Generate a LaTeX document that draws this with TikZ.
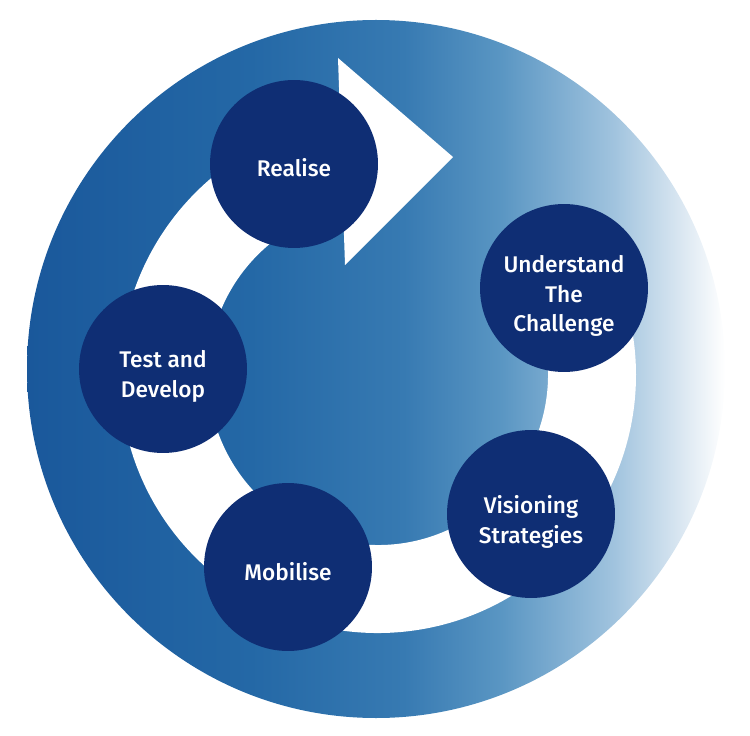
\documentclass[tikz,border=0pt]{standalone}
\usepackage{fontspec}
\setmainfont{Fira Sans}[UprightFont=* Medium]
\usepackage{tikz}
\usetikzlibrary{calc}

\definecolor{navy}{RGB}{15,46,116}
\definecolor{ringA}{RGB}{26,88,155}
\definecolor{ringB}{RGB}{36,104,166}
\definecolor{ringC}{RGB}{55,122,178}
\definecolor{ringD}{RGB}{90,150,195}
\definecolor{ringE}{RGB}{160,195,222}
\definecolor{ringF}{RGB}{220,232,242}
\pgfdeclarehorizontalshading{ringshade}{100bp}{color(0bp)=(ringA); color(25bp)=(ringA);
  color(41bp)=(ringB); color(52bp)=(ringC); color(59bp)=(ringD); color(67bp)=(ringE);
  color(72bp)=(ringF); color(75bp)=(white); color(100bp)=(white)}

\tikzset{stage/.style={circle,fill=navy,minimum size=3.36cm,inner sep=0pt},
  stagetext/.style={text=white,align=center,inner sep=0pt,font=\fontsize{12.9}{17}\selectfont}}

\begin{document}
\begin{tikzpicture}[x=0.02cm,y=-0.02cm]
       \useasboundingbox(0,0)rectangle(750,736);
       \coordinate(O)at(376,369);
       \coordinate(C)at(378,375);
       \shade[shading=ringshade](O)circle[radius=349];
       % white band and its head
       \fill[white]($(C)+(-97:258)$)arc[start angle=-97,end angle=-388,radius=258]
         --($(C)+(-28:170)$)arc[start angle=-388,end angle=-97,radius=170]--cycle;
       \fill[white](338,58)--(453,157)--(345,265)--cycle;
       \node[stage](realise)at(294,164){};
       \node[stage](understand)at(564,288){};
       \node[stage](visioning)at(531,514){};
       \node[stage](mobilise)at(288,567){};
       \node[stage](testdev)at(163,369){};
       \node[stagetext](realiseT)at([yshift=-0.07cm]realise.center){Realise};
       \node[stagetext](understandT)at([yshift=-0.16cm]understand.center){Understand\\The\\Challenge};
       \node[stagetext](visioningT)at([yshift=-0.16cm]visioning.center){Visioning\\Strategies};
       \node[stagetext](mobiliseT)at([yshift=-0.09cm]mobilise.center){Mobilise};
       \node[stagetext](testdevT)at([yshift=-0.14cm]testdev.center){Test and\\Develop};
      \end{tikzpicture}
\end{document}
